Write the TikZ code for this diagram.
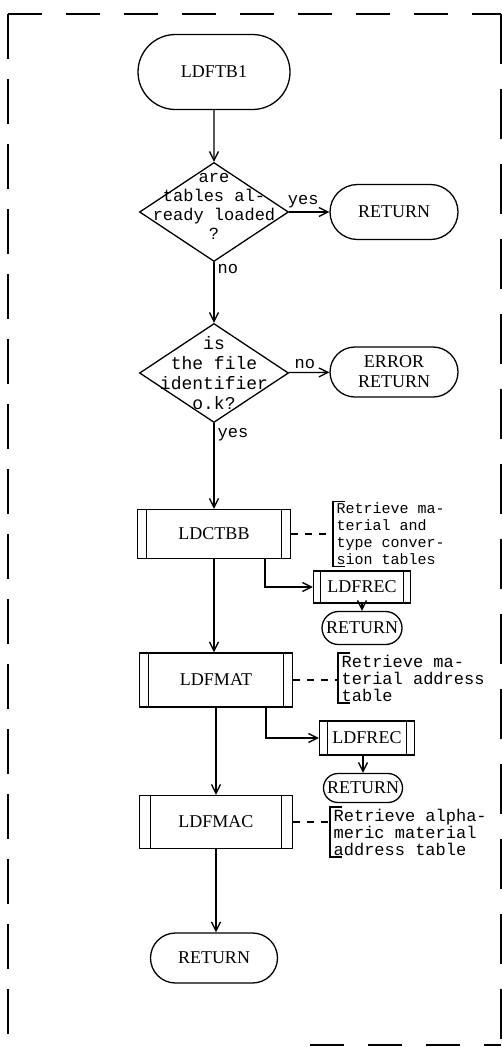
\documentclass[tikz,border=0pt]{standalone}
\usepackage{fontspec}
\newfontfamily\boxfont{Liberation Serif}
\newfontfamily\typefont{Liberation Mono}
\usetikzlibrary{shapes.geometric,shapes.misc,arrows.meta,calc}

\tikzset{
  terminal/.style={draw, rounded rectangle, inner sep=0pt, align=center,
    font=\boxfont\fontsize{18}{20}\selectfont},
  decision/.style={draw, diamond, inner sep=0pt, minimum width=149pt, minimum height=99pt},
  qtext/.style 2 args={inner sep=0pt, align=center, font=\typefont\fontsize{#1}{#2}\selectfont},
  subproc/.style={draw, inner sep=0pt, font=\boxfont\fontsize{18}{18}\selectfont,
    path picture={
      \draw ([xshift=#1]path picture bounding box.north west) -- ([xshift=#1]path picture bounding box.south west);
      \draw ([xshift=-#1]path picture bounding box.north east) -- ([xshift=-#1]path picture bounding box.south east);
    }},
  subproc/.default=9pt,
  note/.style 2 args={anchor=west, align=left, inner xsep=3pt, inner ysep=1pt,
    font=\typefont\fontsize{#1}{#2}\selectfont},
  lbl/.style={inner sep=3pt, font=\typefont\fontsize{17}{17}\selectfont},
  flow/.style={-{Straight Barb[length=9pt,width=9pt]}},
  assoc/.style={dash pattern=on 7pt off 7pt},
  frameline/.style={line width=1.6pt, dash pattern=on #1},
}

\begin{document}
\begin{tikzpicture}[x=1pt, y=-1pt, line width=1.3pt]
    \useasboundingbox (0,0) rectangle (502,1047);

    % Outer dashed frame
    \draw[frameline={34pt off 24pt}] (8,14) -- (501,14);
    \draw[frameline={45pt off 20pt}] (8,14) -- (8,1047);
    \draw[frameline={50pt off 25pt}] (501,14) -- (501,1047);
    \draw[frameline={34pt off 24pt}] (310,1045) -- (501,1045);

    % Main column
    \node[terminal, minimum width=152pt, minimum height=75pt] (ldftb1) at (214,72) {LDFTB1};
    \node[decision, label={[qtext={17}{19}, yshift=6pt]center:{are\\tables al-\\ready loaded\\?}}] (loaded) at (214,212) {};
    \node[terminal, minimum width=128pt, minimum height=55pt] (retyes) at (394,212) {RETURN};
    \node[decision, label={[qtext={18}{20}]center:{is\\the file\\identifier\\o.k?}}] (fileok) at (214,373) {};
    \node[terminal, minimum width=128pt, minimum height=50pt] (errret) at (394,372) {ERROR\\RETURN};
    \node[subproc, minimum width=153pt, minimum height=49pt] (ldctbb) at (214,534) {LDCTBB};
    \node[subproc, minimum width=153pt, minimum height=54pt] (ldfmat) at (216,680) {LDFMAT};
    \node[subproc=11pt, minimum width=153pt, minimum height=53pt] (ldfmac) at (216,822) {LDFMAC};
    \node[terminal, minimum width=127pt, minimum height=50pt] (retend) at (214,958) {RETURN};

    % Side calls
    \node[subproc=7pt, minimum width=97pt, minimum height=32pt] (recA) at (362,587) {LDFREC};
    \node[terminal, minimum width=80pt, minimum height=33pt] (retA) at (362,628) {RETURN};
    \node[subproc=8pt, minimum width=95pt, minimum height=34pt] (recB) at (367,738) {LDFREC};
    \node[terminal, minimum width=79pt, minimum height=29pt] (retB) at (363,788) {RETURN};

    % Comments
    \node[note={15}{17}] (noteA) at (333,534) {Retrieve ma-\\terial and\\type conver-\\sion tables};
    \node[note={17}{17}] (noteB) at (338,678) {Retrieve ma-\\terial address\\table};
    \node[note={17}{17}] (noteC) at (330,832) {Retrieve alpha-\\meric material\\address table};
    \foreach \n in {noteA,noteB,noteC}
        \draw ([xshift=12pt]\n.north west) -- (\n.north west) -- (\n.south west) -- ([xshift=12pt]\n.south west);

    % Flow lines
    \draw[flow] (ldftb1) -- (loaded);
    \draw[flow] (loaded) -- node[lbl, above, pos=0.35] {yes} (retyes);
    \draw[flow] (loaded) -- node[lbl, right, pos=0.12] {no} (fileok);
    \draw[flow] (fileok) -- node[lbl, above, pos=0.4] {no} (errret);
    \draw[flow] (fileok) -- node[lbl, right, pos=0.14] {yes} (ldctbb);
    \draw[flow] (ldctbb.south) -- (ldctbb.south |- ldfmat.north);
    \draw[flow] (ldfmat.south) -- (ldfmat.south |- ldfmac.north);
    \draw[flow] (ldfmac.south) -- (ldfmac.south |- retend.north);
    \draw[flow] ([xshift=51pt]ldctbb.south) |- (recA.west);
    \draw[flow] (recA) -- (retA);
    \draw[flow] ([xshift=50pt]ldfmat.south) |- (recB.west);
    \draw[flow] (recB.south -| retB.north) -- (retB.north);

    % Dashed links to comments
    \draw[assoc] (ldctbb.east) -- (ldctbb.east -| noteA.west);
    \draw[assoc] (ldfmat.east) -- (ldfmat.east -| noteB.west);
    \draw[assoc] (ldfmac.east) -- (ldfmac.east -| noteC.west);
\end{tikzpicture}
\end{document}
